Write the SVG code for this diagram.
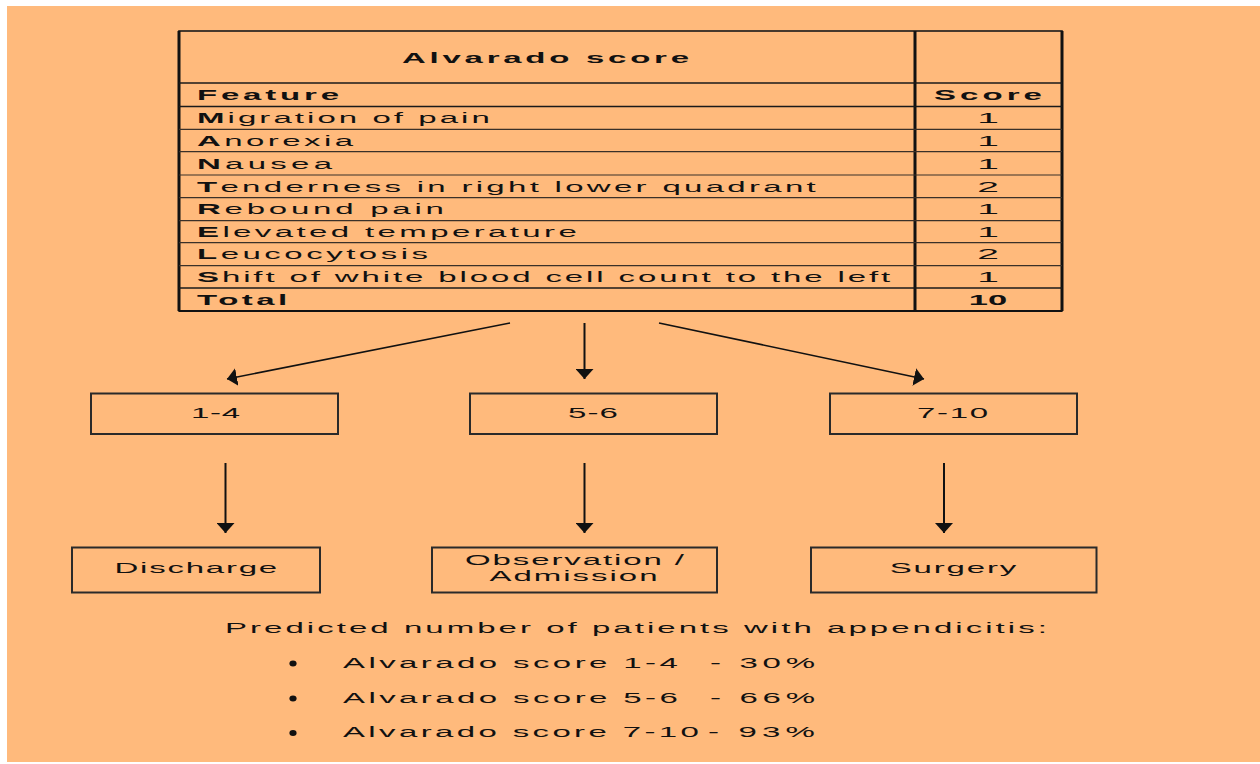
<svg xmlns="http://www.w3.org/2000/svg" width="1260" height="764" viewBox="0 0 1260 764">
<style>
  text { font-family: "Liberation Sans", Arial, sans-serif; font-size: 15px; fill: #111; }
  .b { font-weight: bold; }
  .n { text-anchor: middle; }
  .row { stroke: #3a3028; stroke-width: 1.2; }
  .hdr { stroke: #1a1a1a; stroke-width: 1.6; }
  .box { fill: none; stroke: #2a2a2a; stroke-width: 2; }
  .arr { stroke: #111; fill: none; marker-end: url(#ah); }
</style>
<defs>
  <marker id="ah" markerUnits="userSpaceOnUse" markerWidth="10" markerHeight="18" viewBox="0 0 10 18" refX="10" refY="9" orient="auto">
    <path d="M0,0 L10,9 L0,18 z" fill="#111"/>
  </marker>
</defs>
<rect x="0" y="0" width="1260" height="764" fill="#ffffff"/>
<rect x="7" y="6" width="1253" height="756" fill="#FFBA7C"/>

<g id="table">
  <rect x="179" y="31" width="883" height="280" fill="none" stroke="#1a1a1a" stroke-width="1.6"/>
  <line x1="179" y1="31" x2="179" y2="311" stroke="#111" stroke-width="3"/>
  <line x1="1062" y1="31" x2="1062" y2="311" stroke="#111" stroke-width="3"/>
  <line x1="179" y1="311" x2="1062" y2="311" stroke="#111" stroke-width="2.2"/>
  <line x1="915" y1="31" x2="915" y2="311" stroke="#111" stroke-width="3"/>
  <line class="hdr" x1="179" y1="83" x2="1062" y2="83"/>
  <line class="hdr" x1="179" y1="106.5" x2="1062" y2="106.5"/>
  <line class="row" x1="179" y1="129.3" x2="1062" y2="129.3"/>
  <line class="row" x1="179" y1="151.7" x2="1062" y2="151.7"/>
  <line class="row" x1="179" y1="175" x2="1062" y2="175"/>
  <line class="row" x1="179" y1="197.7" x2="1062" y2="197.7"/>
  <line class="row" x1="179" y1="220.7" x2="1062" y2="220.7"/>
  <line class="row" x1="179" y1="242.7" x2="1062" y2="242.7"/>
  <line class="row" x1="179" y1="265.7" x2="1062" y2="265.7"/>
  <line class="hdr" x1="179" y1="288" x2="1062" y2="288"/>

  <text class="b" transform="translate(402 62.7) scale(2.2 1)" letter-spacing="1.70">Alvarado score</text>
  <text class="b" transform="translate(197 100) scale(2.2 1)" letter-spacing="1.73">Feature</text>
  <text class="b" transform="translate(934 100) scale(2.2 1)" letter-spacing="1.85">Score</text>

  <text transform="translate(197 123.3) scale(2.2 1)" letter-spacing="1.39"><tspan class="b">M</tspan>igration of pain</text>
  <text transform="translate(197 146) scale(2.2 1)" letter-spacing="1.56"><tspan class="b">A</tspan>norexia</text>
  <text transform="translate(197 168.5) scale(2.2 1)" letter-spacing="1.94"><tspan class="b">N</tspan>ausea</text>
  <text transform="translate(197 191.7) scale(2.2 1)" letter-spacing="1.50"><tspan class="b">T</tspan>enderness in right lower quadrant</text>
  <text transform="translate(197 214) scale(2.2 1)" letter-spacing="1.71"><tspan class="b">R</tspan>ebound pain</text>
  <text transform="translate(197 236.7) scale(2.2 1)" letter-spacing="1.54"><tspan class="b">E</tspan>levated temperature</text>
  <text transform="translate(197 259.3) scale(2.2 1)" letter-spacing="1.59"><tspan class="b">L</tspan>eucocytosis</text>
  <text transform="translate(197 281.7) scale(2.2 1)" letter-spacing="1.31"><tspan class="b">S</tspan>hift of white blood cell count to the left</text>
  <text class="b" transform="translate(197 305) scale(2.2 1)" letter-spacing="1.58">Total</text>

  <text class="n" transform="translate(988 123.3) scale(2.6 1)">1</text>
  <text class="n" transform="translate(988 146) scale(2.6 1)">1</text>
  <text class="n" transform="translate(988 168.5) scale(2.6 1)">1</text>
  <text class="n" transform="translate(988 191.7) scale(2.6 1)">2</text>
  <text class="n" transform="translate(988 214) scale(2.6 1)">1</text>
  <text class="n" transform="translate(988 236.7) scale(2.6 1)">1</text>
  <text class="n" transform="translate(988 259.3) scale(2.6 1)">2</text>
  <text class="n" transform="translate(988 281.7) scale(2.6 1)">1</text>
  <text class="b n" transform="translate(988 305) scale(2.3 1)">10</text>
</g>

<g id="connectors">
  <line class="arr" x1="510" y1="323" x2="227" y2="379" stroke-width="1.6"/>
  <line class="arr" x1="584.5" y1="323" x2="584.5" y2="379" stroke-width="2"/>
  <line class="arr" x1="659" y1="323" x2="924" y2="379" stroke-width="1.6"/>
  <line class="arr" x1="225.5" y1="463" x2="225.5" y2="533" stroke-width="2"/>
  <line class="arr" x1="584.5" y1="463" x2="584.5" y2="533" stroke-width="2"/>
  <line class="arr" x1="944" y1="463" x2="944" y2="533" stroke-width="2"/>
</g>

<g id="node-1-4">
  <rect class="box" x="91" y="393.5" width="247" height="40.5"/>
  <text transform="translate(191 418.3) scale(2.2 1)" letter-spacing="0.3">1-4</text>
</g>
<g id="node-5-6">
  <rect class="box" x="470" y="393.5" width="247" height="40.5"/>
  <text transform="translate(568 418.3) scale(2.2 1)" letter-spacing="0.52">5-6</text>
</g>
<g id="node-7-10">
  <rect class="box" x="830" y="393.5" width="247" height="40.5"/>
  <text transform="translate(917 418.3) scale(2.2 1)" letter-spacing="0.76">7-10</text>
</g>

<g id="node-discharge">
  <rect class="box" x="72" y="547.5" width="248" height="45"/>
  <text transform="translate(114.5 573.3) scale(2.2 1)" letter-spacing="0.8">Discharge</text>
</g>
<g id="node-observation">
  <rect class="box" x="432" y="547.5" width="285" height="45"/>
  <text transform="translate(465 565) scale(2.2 1)" letter-spacing="0.86">Observation /</text>
  <text transform="translate(489.5 580.7) scale(2.2 1)" letter-spacing="0.9">Admission</text>
</g>
<g id="node-surgery">
  <rect class="box" x="811" y="547.5" width="285.5" height="45"/>
  <text transform="translate(889.7 573.3) scale(2.2 1)" letter-spacing="0.84">Surgery</text>
</g>

<g id="predictions">
  <text transform="translate(225 632.7) scale(2.2 1)" letter-spacing="1.38">Predicted number of patients with appendicitis:</text>
  <ellipse cx="293" cy="663.5" rx="3.6" ry="3" fill="#111"/>
  <ellipse cx="293" cy="698.5" rx="3.6" ry="3" fill="#111"/>
  <ellipse cx="293" cy="733" rx="3.6" ry="3" fill="#111"/>
  <text transform="translate(343 668.3) scale(2.2 1)" letter-spacing="1.55">Alvarado score 1-4</text>
  <text transform="translate(710 668.3) scale(2.2 1)" letter-spacing="2.14">- 30%</text>
  <text transform="translate(343 703.3) scale(2.2 1)" letter-spacing="1.55">Alvarado score 5-6</text>
  <text transform="translate(710 703.3) scale(2.2 1)" letter-spacing="2.14">- 66%</text>
  <text transform="translate(343 737.3) scale(2.2 1)" letter-spacing="1.53">Alvarado score 7-10</text>
  <text transform="translate(708 737.3) scale(2.2 1)" letter-spacing="2.36">- 93%</text>
</g>
</svg>
